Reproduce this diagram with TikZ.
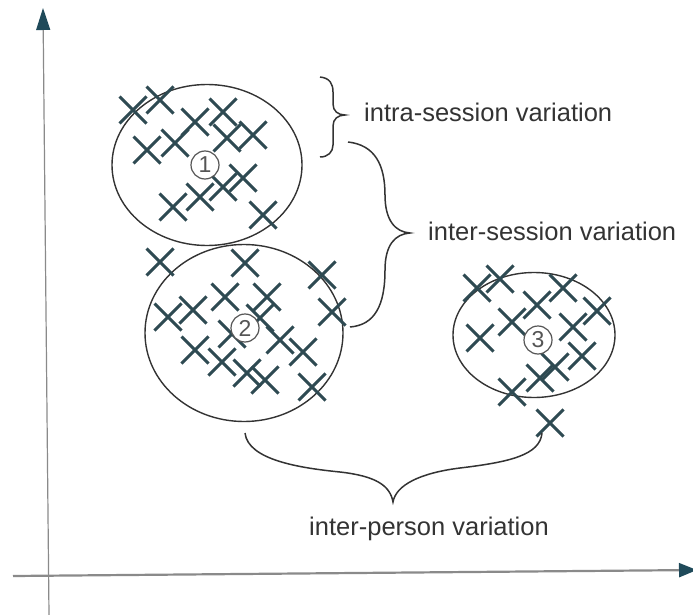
\documentclass[tikz,border=0pt]{standalone}
\usepackage{fontspec}
\setmainfont{Liberation Sans}
\usetikzlibrary{shapes.geometric,shapes.misc,arrows.meta}

\definecolor{crosscol}{HTML}{2E4A52}
\definecolor{ringcol}{HTML}{333333}
\definecolor{tagcol}{HTML}{555555}
\definecolor{inkcol}{HTML}{333333}
\definecolor{axiscol}{HTML}{8A8A8A}
\definecolor{tipcol}{HTML}{1F4A5A}

\begin{document}
\begin{tikzpicture}[x=1pt,y=-1pt,
  xmark/.style={cross out, draw=crosscol, line width=2.9pt, minimum size=27pt,
                inner sep=0pt, outer sep=0pt},
  cluster/.style={ellipse, draw=ringcol, line width=1.4pt, inner sep=0pt},
  tag/.style={circle, draw=tagcol, line width=1.2pt, fill=white, minimum size=28pt,
              inner sep=0pt, font=\fontsize{23}{23}\selectfont, text=tagcol},
  brace/.style={draw=inkcol, line width=1.5pt},
  vartext/.style={font=\fontsize{25.5}{28}\selectfont, text=inkcol, inner sep=0pt},
  axisline/.style={draw=axiscol}
]
\useasboundingbox (0,0) rectangle (693,615);

% axes
\coordinate (yfoot) at (49,615);
\coordinate (ytip)  at (43,8);
\coordinate (xfoot) at (13,576);
\coordinate (xtip)  at (697,570);
\draw[axisline, line width=1.2pt, -{Triangle[length=22pt,width=14pt,color=tipcol]}] (yfoot) -- (ytip);
\draw[axisline, line width=2.2pt, -{Triangle[length=18pt,width=14pt,color=tipcol]}] (xfoot) -- (xtip);

% clusters
\node[cluster, minimum width=190pt, minimum height=161pt] (e1) at (207,165) {};
\node[cluster, minimum width=198pt, minimum height=177pt] (e2) at (244,333) {};
\node[cluster, minimum width=162pt, minimum height=125pt] (e3) at (534,335) {};

% samples of session 1
\foreach \px/\py [count=\i] in {133/110,160/100,195/122,223/112,147/150,175/143,
    227/138,253/135,173/207,200/197,223/187,243/178,263/215}
  \node[xmark] (a\i) at (\px,\py) {};

% samples of session 2
\foreach \px/\py [count=\i] in {160/262,245/263,322/275,332/312,168/317,193/310,
    225/297,267/297,232/334,260/318,195/350,222/362,280/340,303/352,247/373,
    265/380,312/387}
  \node[xmark] (b\i) at (\px,\py) {};

% samples of the second person
\foreach \px/\py [count=\i] in {477/288,500/279,537/305,563/288,597/311,480/338,
    512/322,573/327,582/356,555/367,540/378,512/392,550/423}
  \node[xmark] (c\i) at (\px,\py) {};

% cluster tags
\node[tag] (t1) at (205,165) {1};
\node[tag] (t2) at (245,328) {2};
\node[tag] (t3) at (538,340) {3};

% brace end points
\coordinate (i1) at (320,77);
\coordinate (i2) at (345,115);
\coordinate (i3) at (320,157);
\coordinate (s1) at (348,142);
\coordinate (s2) at (410,233);
\coordinate (s3) at (350,327);
\coordinate (p1) at (245,433);
\coordinate (p2) at (393,502);
\coordinate (p3) at (542,433);

% intra-session brace
\draw[brace] (i1) .. controls (330,78) and (333,84) .. (333,92) -- (333,104)
  .. controls (333,111) and (338,115) .. (i2)
  .. controls (338,115) and (333,119) .. (333,126) -- (333,145)
  .. controls (333,152) and (328,157) .. (i3);

% inter-session brace
\draw[brace] (s1) .. controls (375,145) and (385,165) .. (385,195)
  .. controls (385,220) and (395,232) .. (s2)
  .. controls (395,234) and (385,245) .. (385,270)
  .. controls (385,305) and (375,325) .. (s3);

% inter-person brace
\draw[brace] (p1) .. controls (248,460) and (300,468) .. (340,472)
  .. controls (375,476) and (390,485) .. (p2)
  .. controls (396,485) and (420,473) .. (460,468)
  .. controls (510,462) and (540,455) .. (p3);

% captions
\node[vartext, anchor=west] (l1) at (364,112) {intra-session variation};
\node[vartext, anchor=west] (l2) at (428,231) {inter-session variation};
\node[vartext] (l3) at (429,529) {inter-person variation};
\end{tikzpicture}
\end{document}
